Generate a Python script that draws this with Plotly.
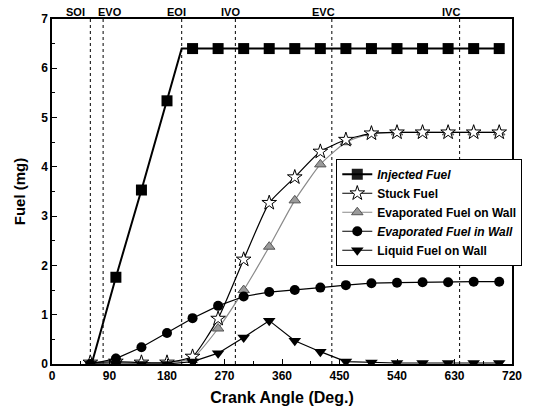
import plotly.graph_objects as go

# ---- data ----
crank = [60, 100, 140, 180, 220, 260, 300, 340, 380, 420, 460, 500, 540, 580, 620, 660, 700]

inj_x = [62, 100, 140, 180, 203, 220, 260, 300, 340, 380, 420, 460, 500, 540, 580, 620, 660, 700]
inj_y = [0.0, 1.76, 3.53, 5.34, 6.40, 6.40, 6.40, 6.40, 6.40, 6.40, 6.40, 6.40, 6.40, 6.40, 6.40, 6.40, 6.40, 6.40]
inj_has_marker = [False, True, True, True, False] + [True] * 13

stuck = [0.03, 0.05, 0.03, 0.03, 0.15, 0.92, 2.12, 3.27, 3.79, 4.31, 4.55, 4.68, 4.70, 4.70, 4.70, 4.70, 4.70]
evap_on = [0.0, 0.03, 0.02, 0.02, 0.12, 0.72, 1.50, 2.38, 3.32, 4.05, 4.50, 4.68, 4.70, 4.70, 4.70, 4.70, 4.70]
evap_in = [0.0, 0.11, 0.34, 0.63, 0.93, 1.18, 1.37, 1.46, 1.50, 1.55, 1.60, 1.64, 1.65, 1.66, 1.66, 1.67, 1.67]
liquid = [0.0, 0.0, 0.0, 0.0, 0.05, 0.22, 0.54, 0.88, 0.47, 0.25, 0.05, 0.03, 0.02, 0.02, 0.02, 0.02, 0.02]

events = ["SOI", "EVO", "EOI", "IVO", "EVC", "IVC"]
event_deg = [60, 80, 203, 287, 438, 638]

x_ticks = [0, 90, 180, 270, 360, 450, 540, 630, 720]
y_ticks = [0, 1, 2, 3, 4, 5, 6, 7]

# label placement style (pixels) for the event labels
event_anchor = ["right", "left", "center", "center", "center", "center"]
event_shift = [-3, -7, -5, -5, -8, -9]

FONT = "Arial, Liberation Sans, sans-serif"

fig = go.Figure()

fig.add_trace(go.Scatter(
    x=inj_x, y=inj_y, mode="lines+markers", name="<b><i>Injected Fuel</i></b>",
    line=dict(color="#000000", width=2),
    marker=dict(symbol="square", size=11, color="#000000",
                opacity=[1.0 if m else 0.0 for m in inj_has_marker]),
))
fig.add_trace(go.Scatter(
    x=crank, y=evap_on, mode="lines+markers", name="<b>Evaporated Fuel on Wall</b>",
    line=dict(color="#8a8a8a", width=1.2, shape="spline", smoothing=0.5),
    marker=dict(symbol="triangle-up", size=10, color="#9a9a9a", line=dict(color="#555", width=1)),
))
fig.add_trace(go.Scatter(
    x=crank, y=stuck, mode="lines+markers", name="<b>Stuck Fuel</b>",
    line=dict(color="black", width=1.2, shape="spline", smoothing=0.5),
    marker=dict(symbol="star", size=11, color="white", line=dict(color="black", width=1)),
))
fig.add_trace(go.Scatter(
    x=crank, y=evap_in, mode="lines+markers", name="<b><i>Evaporated Fuel in Wall</i></b>",
    line=dict(color="black", width=1.2),
    marker=dict(symbol="circle", size=10, color="black"),
))
fig.add_trace(go.Scatter(
    x=crank, y=liquid, mode="lines+markers", name="<b>Liquid Fuel on Wall</b>",
    line=dict(color="black", width=1.2),
    marker=dict(symbol="triangle-down", size=11, color="black"),
))

shapes = []
annotations = []
for name, d, anc, sh in zip(events, event_deg, event_anchor, event_shift):
    shapes.append(dict(type="line", xref="x", yref="paper", x0=d, x1=d, y0=0, y1=1,
                       line=dict(color="black", width=1, dash="dot"), layer="below"))
    annotations.append(dict(x=d, y=1, xref="x", yref="paper", text="<b>%s</b>" % name,
                            showarrow=False, xanchor=anc, yanchor="bottom",
                            xshift=sh, yshift=-1, font=dict(family=FONT, size=11, color="black")))

fig.update_layout(
    width=534, height=417,
    margin=dict(l=52, r=17, t=17, b=53),
    paper_bgcolor="white", plot_bgcolor="white",
    font=dict(family=FONT, size=12, color="black"),
    shapes=shapes, annotations=annotations,
    legend=dict(
        traceorder="normal",
        x=0.618, y=0.595, xanchor="left", yanchor="top",
        bgcolor="white", bordercolor="black", borderwidth=1,
        font=dict(family=FONT, size=12, color="black"),
        tracegroupgap=0, itemwidth=30,
    ),
    xaxis=dict(
        range=[0, 720], tickvals=x_ticks, ticktext=[str(v) for v in x_ticks],
        showgrid=False, zeroline=False, showline=True, linecolor="black", linewidth=1.5,
        mirror=True, ticks="inside", ticklen=5, tickcolor="black",
        minor=dict(ticks="inside", ticklen=3, dtick=45, tickcolor="black"),
        tickfont=dict(family=FONT, size=12, color="black", weight="bold"),
        title=dict(text="<b>Crank Angle (Deg.)</b>", font=dict(family=FONT, size=16, color="black"), standoff=10),
    ),
    yaxis=dict(
        range=[0, 7], tickvals=y_ticks, ticktext=[str(v) for v in y_ticks],
        showgrid=False, zeroline=False, showline=True, linecolor="black", linewidth=1.5,
        mirror=True, ticks="inside", ticklen=5, tickcolor="black",
        minor=dict(ticks="inside", ticklen=3, dtick=0.5, tickcolor="black"),
        tickfont=dict(family=FONT, size=12, color="black", weight="bold"),
        title=dict(text="<b>Fuel (mg)</b>", font=dict(family=FONT, size=15, color="black"), standoff=12),
    ),
    showlegend=True,
)

# legend order as in reference
order = ["<b><i>Injected Fuel</i></b>", "<b>Stuck Fuel</b>", "<b>Evaporated Fuel on Wall</b>",
         "<b><i>Evaporated Fuel in Wall</i></b>", "<b>Liquid Fuel on Wall</b>"]
for t in fig.data:
    t.legendrank = order.index(t.name) + 1

fig.write_html("out.html")
